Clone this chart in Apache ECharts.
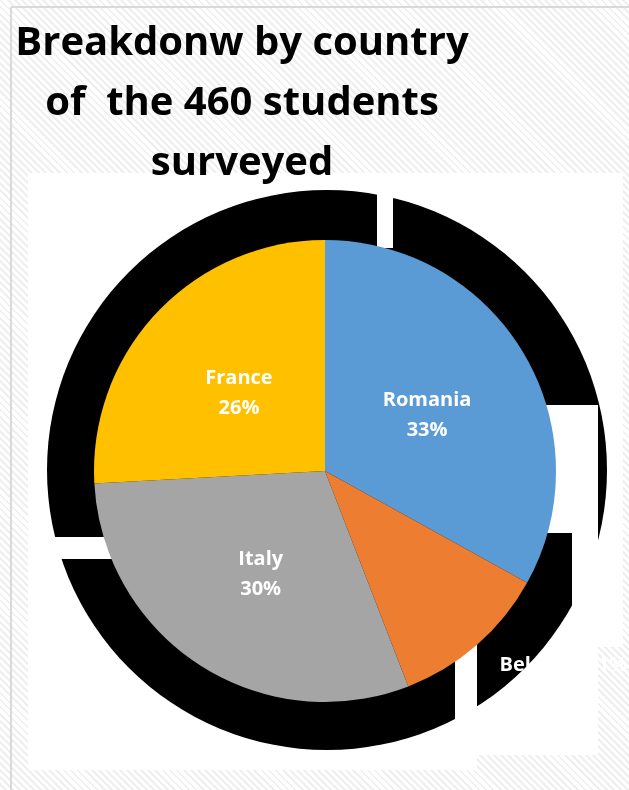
<!DOCTYPE html>
<html>
<head>
<meta charset="utf-8">
<script src="https://cdn.jsdelivr.net/npm/echarts@6/dist/echarts.min.js"></script>
<style>
  html, body { margin: 0; padding: 0; }
  body {
    width: 629px; height: 790px; overflow: hidden;
    background: repeating-linear-gradient(45deg, #ffffff 0px, #ffffff 3px, #efefef 3px, #efefef 5px);
  }
  #chart { width: 629px; height: 790px; }
</style>
</head>
<body>
<div id="chart"></div>
<script>
// ---- data ----
const titleLines = ['Breakdonw by country', 'of  the 460 students', 'surveyed'];
const countries = ['Romania', 'Belgium', 'Italy', 'France'];
const students  = [152, 51, 138, 119];          // 460 in total
const colors    = ['#5B9BD5', '#ED7D31', '#A5A5A5', '#FFC000'];

const chart = echarts.init(document.getElementById('chart'), null, { renderer: 'canvas' });

const pieData = countries.map((c, i) => {
  const item = { name: c, value: students[i], itemStyle: { color: colors[i] } };
  if (c === 'Belgium') {
    item.label = {
      position: 'outside',
      formatter: '{b} {d}%',
      align: 'left',
      offset: [0, 0]
    };
    item.labelLine = { show: false, length: 27, length2: 0 };
  }
  return item;
});

const white = { fill: '#ffffff' };

chart.setOption({
  backgroundColor: 'transparent',
  animation: false,
  graphic: [
    // outer frame lines
    { type: 'line', z: 0, shape: { x1: 11, y1: 7, x2: 11, y2: 790 }, style: { stroke: '#d9d9d9', lineWidth: 2 } },
    { type: 'line', z: 0, shape: { x1: 11, y1: 7, x2: 629, y2: 7 }, style: { stroke: '#d9d9d9', lineWidth: 2 } },
    // plot area (white)
    { type: 'rect', z: 0, shape: { x: 28, y: 173, width: 449, height: 597 }, style: white },
    { type: 'rect', z: 0, shape: { x: 477, y: 173, width: 121, height: 582 }, style: white },
    { type: 'rect', z: 0, shape: { x: 598, y: 173, width: 25, height: 474 }, style: white },
    // cut-outs in the shadow
    { type: 'rect', z: 2, shape: { x: 377, y: 178, width: 16, height: 70 }, style: white },
    { type: 'rect', z: 2, shape: { x: 520, y: 405, width: 78, height: 128 }, style: white },
    { type: 'rect', z: 2, shape: { x: 572, y: 533, width: 26, height: 22 }, style: white },
    { type: 'rect', z: 2, shape: { x: 572, y: 555, width: 51, height: 92 }, style: white },
    { type: 'rect', z: 2, shape: { x: 455, y: 640, width: 22, height: 115 }, style: white },
    { type: 'rect', z: 2, shape: { x: 38, y: 537, width: 80, height: 22 }, style: white },
    // title
    {
      type: 'text', z: 10, x: 242, y: 14,
      style: {
        text: titleLines.join('\n'),
        fill: '#000000',
        font: 'bold 40px "Open Sans"',
        textAlign: 'center',
        textVerticalAlign: 'top',
        lineHeight: 60
      }
    }
  ],
  series: [
    {
      // black shadow behind the pie
      type: 'pie', z: 1, silent: true,
      center: [327, 470], radius: 280,
      label: { show: false }, labelLine: { show: false },
      data: [{ value: students.reduce((a, b) => a + b, 0), itemStyle: { color: '#000000' } }]
    },
    {
      type: 'pie', z: 3,
      center: [325, 471], radius: 231,
      startAngle: 90, clockwise: true,
      avoidLabelOverlap: false,
      percentPrecision: 0,
      itemStyle: { borderWidth: 0 },
      label: {
        show: true,
        position: 'inside',
        formatter: '{b}\n{d}%',
        color: '#ffffff',
        fontFamily: 'Open Sans',
        fontWeight: 'bold',
        fontSize: 20,
        lineHeight: 30,
        offset: [0, 4]
      },
      labelLine: { show: false },
      data: pieData
    }
  ]
});
</script>
</body>
</html>
